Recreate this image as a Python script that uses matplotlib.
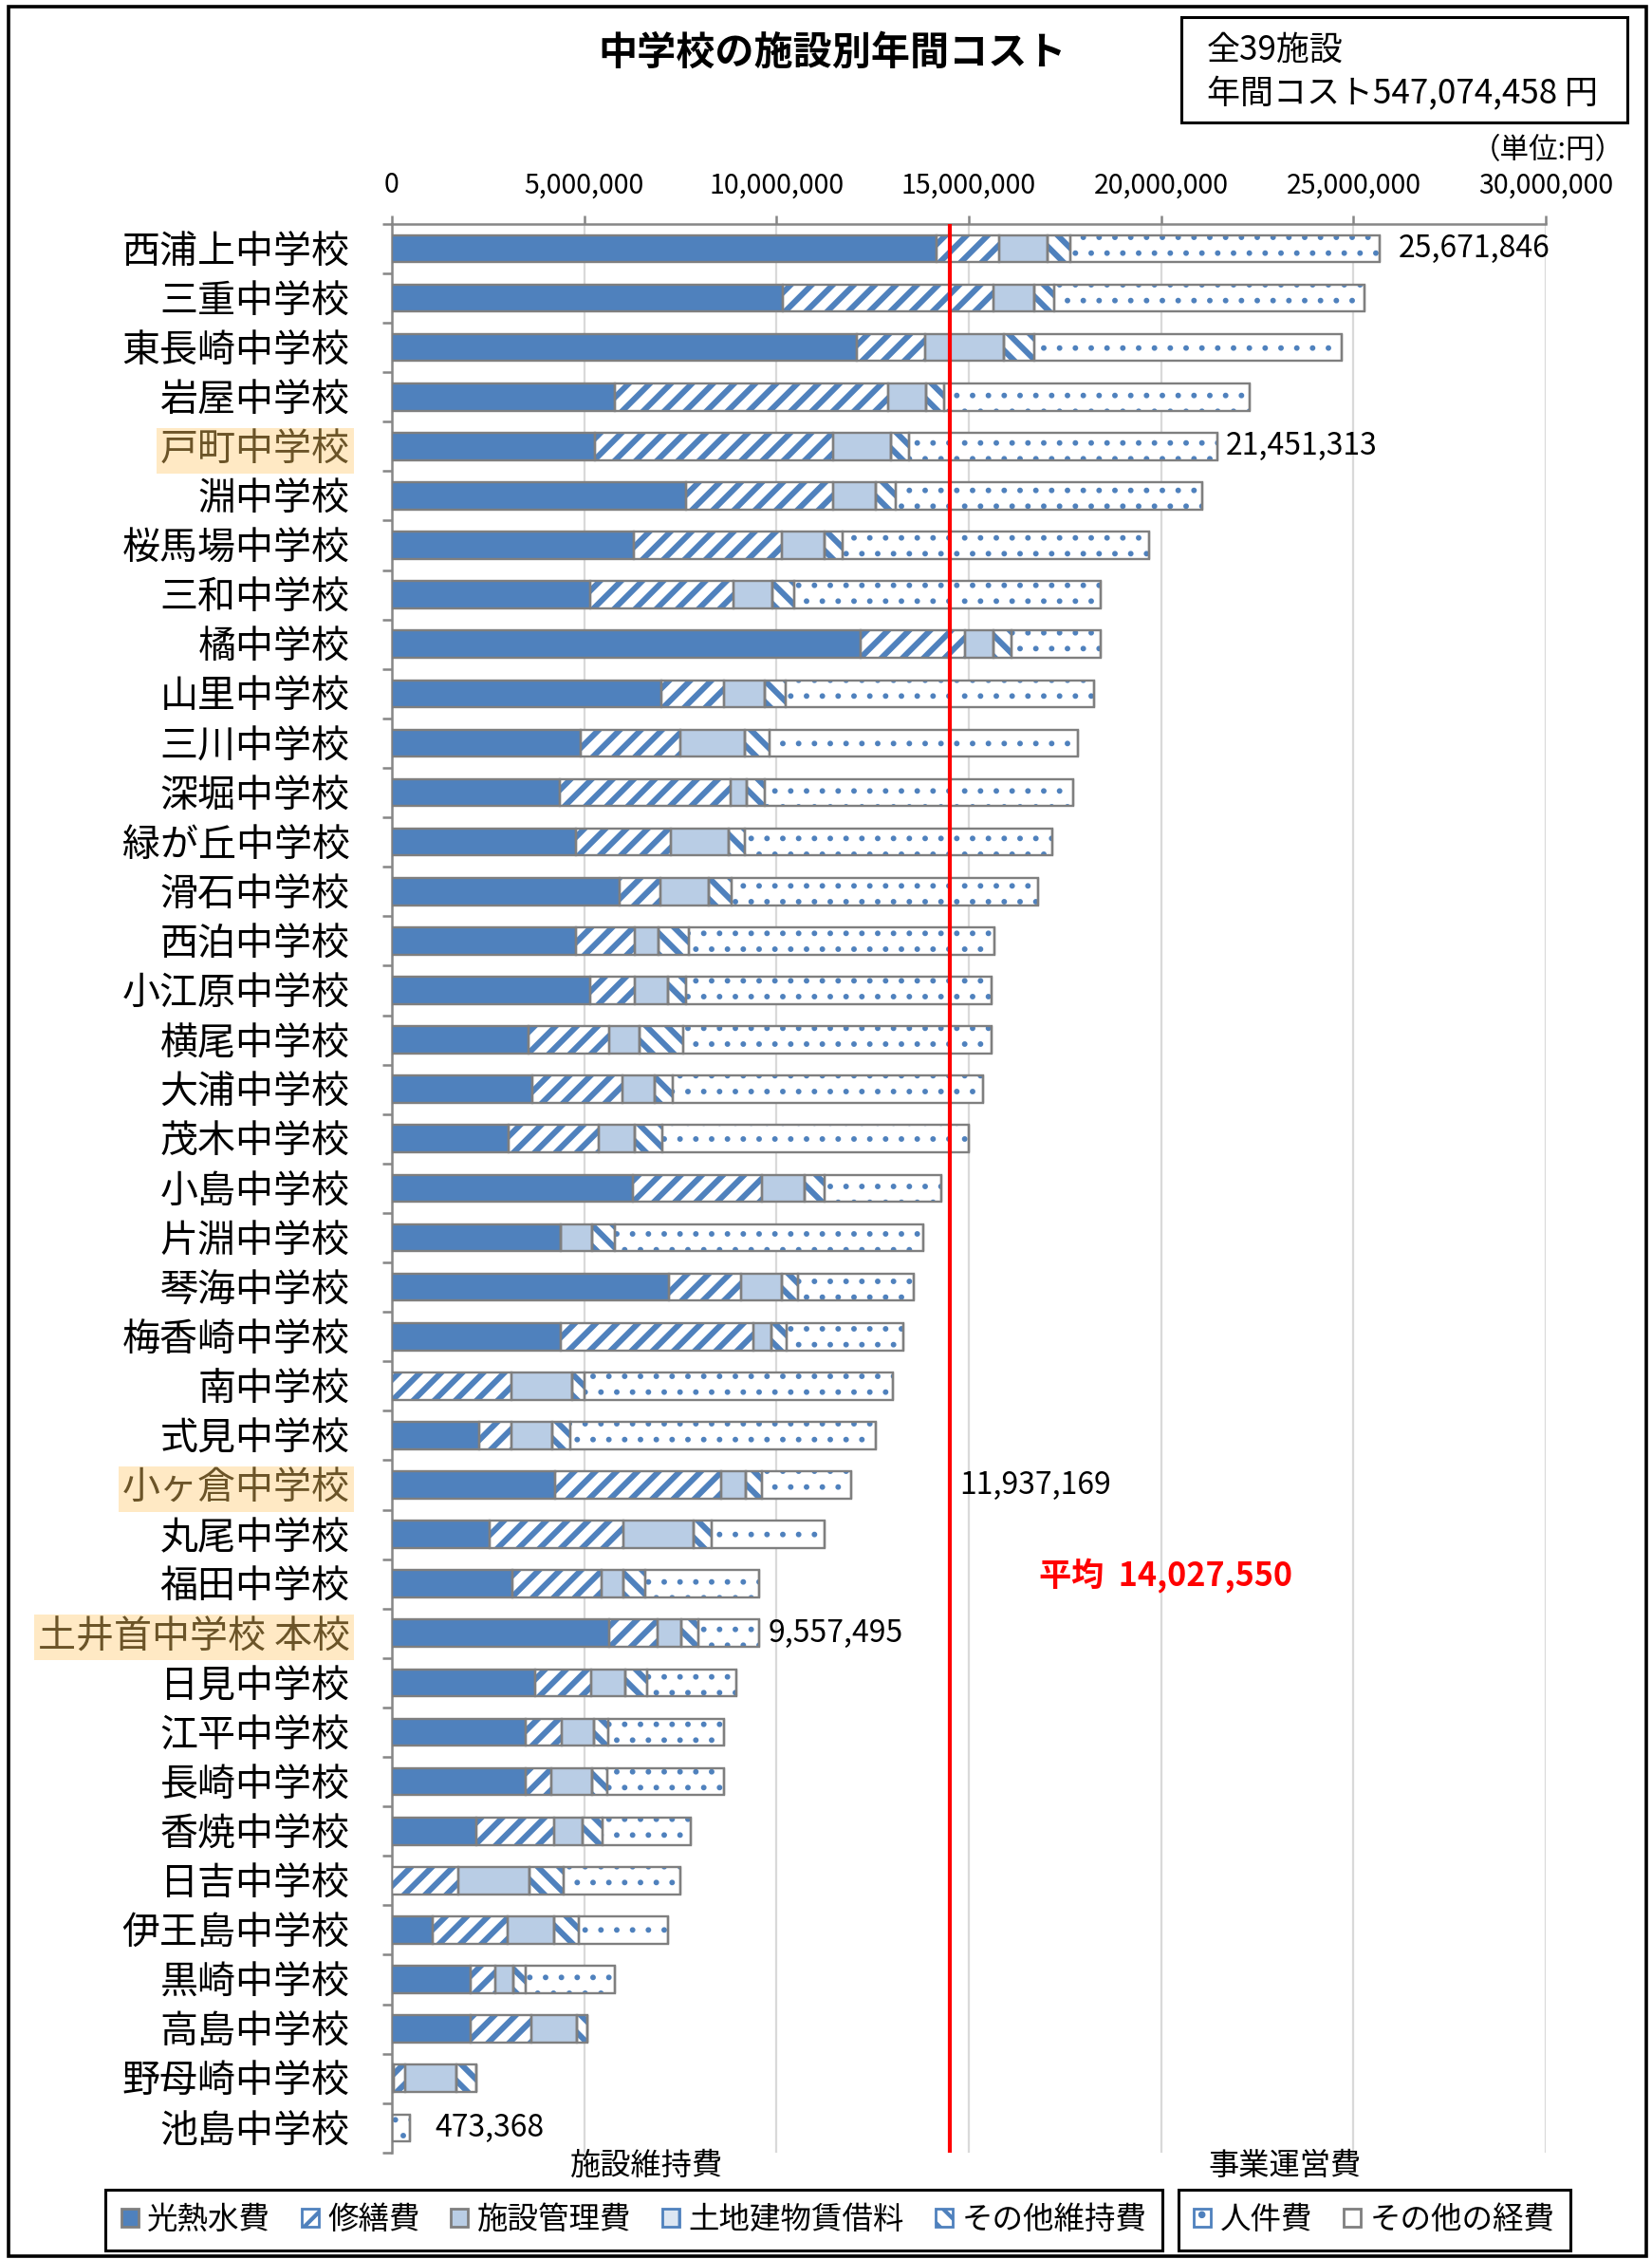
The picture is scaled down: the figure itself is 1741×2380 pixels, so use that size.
import matplotlib
matplotlib.use('Agg')
import matplotlib.pyplot as plt
from matplotlib.patches import Patch, Rectangle
from matplotlib.ticker import FuncFormatter
import numpy as np

plt.rcParams['font.family'] = ['Noto Sans CJK JP', 'DejaVu Sans']
plt.rcParams['hatch.linewidth'] = 1.5

# データ（単位：円）
schools = ['西浦上中学校', '三重中学校', '東長崎中学校', '岩屋中学校', '戸町中学校',
           '淵中学校', '桜馬場中学校', '三和中学校', '橘中学校', '山里中学校',
           '三川中学校', '深堀中学校', '緑が丘中学校', '滑石中学校', '西泊中学校',
           '小江原中学校', '横尾中学校', '大浦中学校', '茂木中学校', '小島中学校',
           '片淵中学校', '琴海中学校', '梅香崎中学校', '南中学校', '式見中学校',
           '小ヶ倉中学校', '丸尾中学校', '福田中学校', '土井首中学校 本校', '日見中学校',
           '江平中学校', '長崎中学校', '香焼中学校', '日吉中学校', '伊王島中学校',
           '黒崎中学校', '高島中学校', '野母崎中学校', '池島中学校']

kounetsu = [14150000, 10160000, 12090000, 5810000, 5280000, 7660000, 6280000, 5160000,
            12180000, 7010000, 4900000, 4360000, 4780000, 5930000, 4780000, 5160000,
            3560000, 3650000, 3040000, 6260000, 4390000, 7200000, 4380000, 0,
            2270000, 4240000, 2530000, 3130000, 5640000, 3720000, 3490000, 3490000,
            2200000, 0, 1060000, 2060000, 2060000, 50000, 0]
shuzen = [1640000, 5480000, 1780000, 7090000, 6180000, 3810000, 3860000, 3720000,
          2730000, 1630000, 2610000, 4450000, 2470000, 1060000, 1540000, 1160000,
          2090000, 2340000, 2350000, 3360000, 0, 1890000, 5020000, 3100000,
          850000, 4330000, 3480000, 2320000, 1280000, 1470000, 920000, 660000,
          2020000, 1730000, 1950000, 640000, 1570000, 300000, 0]
kanri = [1250000, 1070000, 2040000, 990000, 1510000, 1110000, 1110000, 1020000,
         740000, 1060000, 1660000, 420000, 1520000, 1250000, 610000, 870000,
         800000, 850000, 930000, 1110000, 810000, 1060000, 480000, 1590000,
         1060000, 640000, 1830000, 570000, 610000, 880000, 850000, 1060000,
         730000, 1850000, 1210000, 470000, 1190000, 1330000, 0]
chinshaku = [0, 0, 0, 0, 0, 0, 0, 0, 0, 0, 0, 0, 0, 0, 0, 0, 0, 0, 0, 0,
             0, 0, 0, 0, 0, 0, 0, 0, 0, 0, 0, 0, 0, 0, 0, 0, 0, 0, 0]
sonota_iji = [590000, 500000, 800000, 480000, 480000, 520000, 470000, 550000,
              470000, 550000, 640000, 470000, 400000, 590000, 800000, 470000,
              1120000, 470000, 710000, 520000, 590000, 400000, 380000, 310000,
              450000, 420000, 470000, 570000, 450000, 570000, 360000, 380000,
              520000, 880000, 640000, 310000, 260000, 520000, 0]
jinken = [8041846, 8070000, 7980000, 7920000, 8001313, 7960000, 7960000, 7970000,
          2300000, 8000000, 8030000, 8010000, 7990000, 7960000, 7940000, 7940000,
          8010000, 8050000, 7960000, 3030000, 8030000, 3010000, 3030000, 8030000,
          7960000, 2307169, 2940000, 2960000, 1577495, 2320000, 3010000, 3040000,
          2300000, 3050000, 2320000, 2320000, 0, 0, 473368]
sonota_keihi = [0, 0, 0, 0, 0, 0, 0, 0, 0, 0, 0, 0, 0, 0, 0, 0, 0, 0, 0, 0,
                0, 0, 0, 0, 0, 0, 0, 0, 0, 0, 0, 0, 0, 0, 0, 0, 0, 0, 0]

cost_names = ['光熱水費', '修繕費', '施設管理費', '土地建物賃借料', 'その他維持費', '人件費', 'その他の経費']
cost_values = [kounetsu, shuzen, kanri, chinshaku, sonota_iji, jinken, sonota_keihi]

highlight = ['戸町中学校', '小ヶ倉中学校', '土井首中学校 本校']
labelled = ['西浦上中学校', '戸町中学校', '小ヶ倉中学校', '土井首中学校 本校', '池島中学校']
label_offsets = [500000, 230000, 2830000, 230000, 650000]

total_cost = 547074458
n_facilities = 39
average = 14027550
avg_line_x = 14500000
xticks = [0, 5000000, 10000000, 15000000, 20000000, 25000000, 30000000]

# スタイル
BLUE = '#4F81BD'
styles = {
    '光熱水費': dict(face=BLUE, hcolor=BLUE, hatch=None, hlw=1.0),
    '修繕費': dict(face='white', hcolor=BLUE, hatch='///', hlw=2.2),
    '施設管理費': dict(face='#B9CDE5', hcolor='#B9CDE5', hatch=None, hlw=1.0),
    '土地建物賃借料': dict(face='#DCE6F2', hcolor=BLUE, hatch='|', hlw=1.5),
    'その他維持費': dict(face='white', hcolor=BLUE, hatch='\\\\\\', hlw=2.2),
    '人件費': dict(face='white', hcolor=BLUE, hatch='..', hlw=0.9),
    'その他の経費': dict(face='white', hcolor='white', hatch=None, hlw=1.0),
}

fig = plt.figure(figsize=(8.705, 11.9), dpi=200)
ax = fig.add_axes([0.2372, 0.0471, 0.6985, 0.8538])

y = np.arange(len(schools))
left = np.zeros(len(schools))
bar_h = 0.55
for name, vals in zip(cost_names, cost_values):
    st = styles[name]
    vals = np.array(vals, dtype=float)
    # ハッチ線幅は作成時に読まれる
    with plt.rc_context({'hatch.linewidth': st['hlw']}):
        bars = ax.barh(y, vals, left=left, height=bar_h, color=st['face'],
                       edgecolor=st['hcolor'], hatch=st['hatch'], linewidth=0, zorder=3)
    for b in bars:
        if hasattr(b, 'set_hatch_linewidth'):
            b.set_hatch_linewidth(st['hlw'])
    ax.barh(y, vals, left=left, height=bar_h, facecolor='none',
            edgecolor='#7F7F7F', linewidth=0.85, zorder=4)
    left += vals

totals = left

ax.axvline(avg_line_x, color='#FF0000', lw=1.5, zorder=6)

ax.set_xlim(0, 30000000)
ax.set_ylim(len(schools) - 0.5, -0.5)
ax.xaxis.tick_top()
ax.set_xticks(xticks)
ax.xaxis.set_major_formatter(FuncFormatter(lambda v, p: f'{int(v):,}'))
ax.tick_params(axis='x', which='major', labelsize=10.3, length=3.2, width=0.9,
               color='#868686', pad=6)
ax.xaxis.grid(True, color='#D9D9D9', lw=0.8)
ax.set_axisbelow(True)

ax.set_yticks(y)
ax.set_yticklabels(schools, fontsize=14.4)
ax.set_yticks(np.arange(len(schools) + 1) - 0.5, minor=True)
ax.tick_params(axis='y', which='major', length=0, pad=16)
ax.tick_params(axis='y', which='minor', length=3.6, width=0.9, color='#868686')

for s in ['right', 'bottom']:
    ax.spines[s].set_visible(False)
for s in ['top', 'left']:
    ax.spines[s].set_color('#868686')
    ax.spines[s].set_linewidth(0.9)

for lab in ax.get_yticklabels():
    if lab.get_text() in highlight:
        lab.set_color('#6B5428')
        lab.set_bbox(dict(facecolor='#FFE9C4', edgecolor='none', pad=1.5))

for name, off in zip(labelled, label_offsets):
    i = schools.index(name)
    ax.text(totals[i] + off, i, f'{int(round(totals[i])):,}', va='center',
            ha='left', fontsize=11.5, zorder=7)

ax.text(16820000, 26.85, f'平均  {average:,}', color='#FF0000', fontweight='bold',
        fontsize=12.3, va='center', ha='left')

# タイトル・注記
fig.text(0.504, 0.9765, '中学校の施設別年間コスト', ha='center', va='center',
         fontsize=14.8, fontweight='bold')
fig.add_artist(Rectangle((0.7151, 0.9458), 0.27, 0.0466, transform=fig.transFigure,
                         fill=False, edgecolor='black', lw=1.1))
fig.text(0.7306, 0.9777, f'全{n_facilities}施設', ha='left', va='center', fontsize=12.6)
fig.text(0.7306, 0.9584, f'年間コスト{total_cost:,} 円', ha='left', va='center', fontsize=12.6)
fig.text(0.983, 0.9335, '（単位:円）', ha='right', va='center', fontsize=11)

fig.text(0.3917, 0.0412, '施設維持費', ha='center', va='center', fontsize=11.6)
fig.text(0.7777, 0.0412, '事業運営費', ha='center', va='center', fontsize=11.6)

# 凡例
def make_handles(names):
    return [Patch(facecolor=styles[n]['face'], edgecolor=styles[n]['hcolor'] if styles[n]['hatch'] else '#7F7F7F',
                  hatch=styles[n]['hatch'], label=n) for n in names]

leg_kw = dict(loc='center', frameon=True, fancybox=False, edgecolor='black',
              fontsize=11.7, handlelength=0.55, handleheight=0.55, handletextpad=0.3,
              columnspacing=1.0, borderpad=0.5, framealpha=1)
leg1 = fig.legend(handles=make_handles(cost_names[:5]), bbox_to_anchor=(0.3837, 0.0172),
                  ncol=5, **leg_kw)
leg2 = fig.legend(handles=make_handles(cost_names[5:]), bbox_to_anchor=(0.832, 0.0172),
                  ncol=2, **leg_kw)
for lg in (leg1, leg2):
    lg.get_frame().set_linewidth(1.1)

fig.add_artist(Rectangle((0.005, 0.0013), 0.9914, 0.9958, transform=fig.transFigure,
                         fill=False, edgecolor='black', lw=1.3))

fig.savefig('out.png', dpi=200, facecolor='white')
